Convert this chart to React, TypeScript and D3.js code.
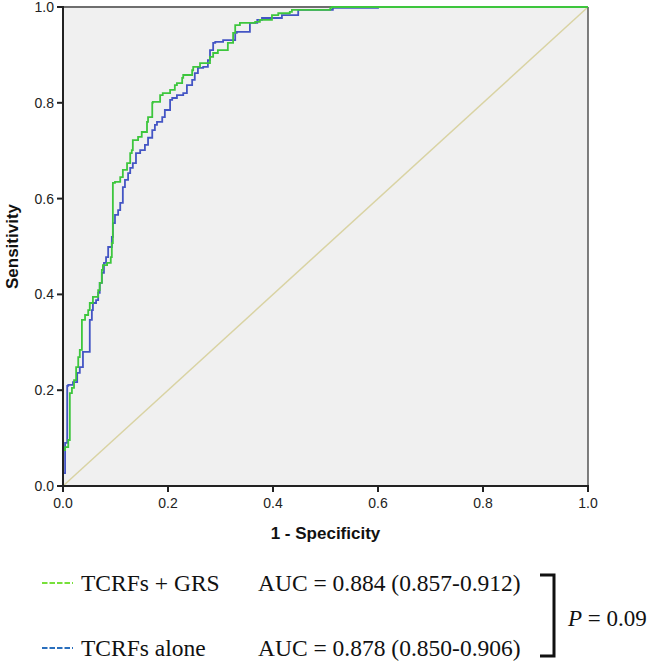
import React from "react";
import * as d3 from "d3";

// ROC curve data: [1 - specificity, sensitivity]
const grsFpr = [0, 0.004, 0.010, 0.013, 0.017, 0.021, 0.025, 0.029, 0.032, 0.036, 0.042, 0.048, 0.051, 0.057, 0.067, 0.070, 0.074, 0.076, 0.084, 0.091, 0.093, 0.095, 0.099, 0.109, 0.114, 0.122, 0.128, 0.131, 0.133, 0.143, 0.150, 0.160, 0.162, 0.170, 0.171, 0.185, 0.190, 0.204, 0.213, 0.217, 0.227, 0.229, 0.246, 0.248, 0.261, 0.280, 0.286, 0.295, 0.314, 0.324, 0.328, 0.337, 0.366, 0.375, 0.398, 0.410, 0.432, 0.436, 0.509, 0.512, 0.528, 1.0];
const grsTpr = [0, 0.075, 0.081, 0.096, 0.194, 0.205, 0.221, 0.248, 0.269, 0.284, 0.347, 0.357, 0.367, 0.382, 0.395, 0.409, 0.424, 0.451, 0.461, 0.466, 0.478, 0.507, 0.633, 0.635, 0.645, 0.660, 0.674, 0.695, 0.701, 0.722, 0.729, 0.739, 0.760, 0.770, 0.800, 0.802, 0.816, 0.820, 0.827, 0.837, 0.841, 0.852, 0.858, 0.868, 0.875, 0.883, 0.896, 0.904, 0.910, 0.925, 0.946, 0.962, 0.967, 0.969, 0.973, 0.983, 0.987, 0.990, 0.994, 0.998, 1.0, 1.0];

const aloneFpr = [0, 0.004, 0.008, 0.010, 0.019, 0.027, 0.032, 0.038, 0.051, 0.055, 0.057, 0.063, 0.067, 0.070, 0.074, 0.078, 0.082, 0.086, 0.093, 0.095, 0.099, 0.105, 0.109, 0.114, 0.118, 0.124, 0.128, 0.133, 0.139, 0.147, 0.156, 0.162, 0.170, 0.175, 0.179, 0.189, 0.194, 0.204, 0.208, 0.217, 0.229, 0.236, 0.246, 0.251, 0.257, 0.267, 0.276, 0.280, 0.286, 0.290, 0.305, 0.328, 0.331, 0.356, 0.370, 0.379, 0.417, 0.448, 0.514, 0.600, 1.0];
const aloneTpr = [0, 0.027, 0.090, 0.209, 0.211, 0.217, 0.236, 0.248, 0.280, 0.347, 0.367, 0.382, 0.388, 0.403, 0.424, 0.445, 0.466, 0.478, 0.499, 0.520, 0.549, 0.566, 0.576, 0.591, 0.624, 0.639, 0.653, 0.664, 0.674, 0.695, 0.701, 0.712, 0.727, 0.743, 0.754, 0.760, 0.770, 0.785, 0.806, 0.810, 0.816, 0.820, 0.837, 0.848, 0.862, 0.873, 0.875, 0.889, 0.910, 0.925, 0.927, 0.931, 0.946, 0.948, 0.967, 0.973, 0.977, 0.983, 0.994, 0.998, 1.0];

const tickValues = [0, 0.2, 0.4, 0.6, 0.8, 1.0];
const xTitle = "1 - Specificity";
const yTitle = "Sensitivity";
const legendNames = ["TCRFs + GRS", "TCRFs alone"];
const legendAuc = ["AUC = 0.884 (0.857-0.912)", "AUC = 0.878 (0.850-0.906)"];
const pValue = "0.09";

const W = 650;
const H = 663;
const left = 63;
const right = 588;
const top = 7;
const bottom = 486;

const x = d3.scaleLinear().domain([0, 1]).range([left, right]);
const y = d3.scaleLinear().domain([0, 1]).range([bottom, top]);

const line = d3
  .line<[number, number]>()
  .x((d) => x(d[0]))
  .y((d) => y(d[1]))
  .curve(d3.curveStepBefore);

const zip = (a: number[], b: number[]): [number, number][] => a.map((v, i) => [v, b[i]]);

export default function App() {
  const grs = zip(grsFpr, grsTpr);
  const alone = zip(aloneFpr, aloneTpr);
  const sans = "Arial, 'Liberation Sans', sans-serif";
  const serif = "'Times New Roman', 'Liberation Serif', serif";
  return (
    <svg
      width={W}
      height={H}
      style={{ position: "absolute", left: 0, top: 0, background: "#fff" }}
    >
      <rect x={left} y={top} width={right - left} height={bottom - top} fill="#f0f0f0" />
      {/* diagonal reference */}
      <line x1={x(0)} y1={y(0)} x2={x(1)} y2={y(1)} stroke="#d9d3a3" strokeWidth={1.5} />
      {/* frame top/right */}
      <line x1={left} y1={top} x2={right} y2={top} stroke="#6e6e6e" strokeWidth={2} />
      <line x1={right} y1={top} x2={right} y2={bottom} stroke="#555" strokeWidth={1.5} />
      {/* curves */}
      <path d={line(alone) || ""} fill="none" stroke="#4455c4" strokeWidth={1.8} />
      <path d={line(grs) || ""} fill="none" stroke="#3dc63d" strokeWidth={1.8} />
      {/* axes */}
      <line x1={left} y1={top - 1} x2={left} y2={bottom + 1} stroke="#222" strokeWidth={2} />
      <line x1={left - 1} y1={bottom} x2={right + 1} y2={bottom} stroke="#222" strokeWidth={2} />
      {tickValues.map((t) => (
        <g key={"y" + t}>
          <line x1={left - 6} x2={left} y1={y(t)} y2={y(t)} stroke="#222" strokeWidth={2} />
          <text
            x={left - 9}
            y={y(t) + 5}
            textAnchor="end"
            fontFamily={sans}
            fontSize={14}
            fill="#222"
          >
            {t.toFixed(1)}
          </text>
        </g>
      ))}
      {tickValues.map((t) => (
        <g key={"x" + t}>
          <line x1={x(t)} x2={x(t)} y1={bottom} y2={bottom + 6} stroke="#222" strokeWidth={2} />
          <text
            x={x(t)}
            y={bottom + 22}
            textAnchor="middle"
            fontFamily={sans}
            fontSize={14}
            fill="#222"
          >
            {t.toFixed(1)}
          </text>
        </g>
      ))}
      <text
        x={(left + right) / 2}
        y={539}
        textAnchor="middle"
        fontFamily={sans}
        fontWeight="bold"
        fontSize={17}
        fill="#111"
      >
        {xTitle}
      </text>
      <text
        transform={`translate(18, ${(top + bottom) / 2}) rotate(-90)`}
        textAnchor="middle"
        fontFamily={sans}
        fontWeight="bold"
        fontSize={17}
        fill="#111"
      >
        {yTitle}
      </text>
      {/* legend */}
      {legendNames.map((name, i) => {
        const cy = 583 + i * 65;
        const col = i === 0 ? "#77e03a" : "#2a6fbd";
        return (
          <g key={name}>
            <line
              x1={42}
              x2={73}
              y1={cy}
              y2={cy}
              stroke={col}
              strokeWidth={2.2}
              strokeDasharray="5.5,2"
            />
            <text x={81} y={cy + 8} fontFamily={serif} fontSize={23.5} fill="#111">
              {name}
            </text>
            <text x={258} y={cy + 8} fontFamily={serif} fontSize={23.5} fill="#111">
              {legendAuc[i]}
            </text>
          </g>
        );
      })}
      <path d="M540,575 H554 V656 H540" fill="none" stroke="#111" strokeWidth={3} />
      <text x={568} y={626} fontFamily={serif} fontSize={23} fill="#111">
        <tspan fontStyle="italic">P</tspan>
        {" = " + pValue}
      </text>
    </svg>
  );
}
